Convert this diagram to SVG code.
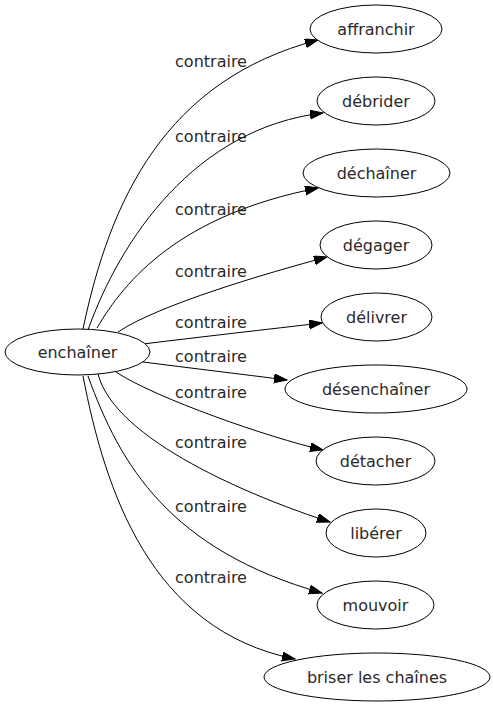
<svg xmlns="http://www.w3.org/2000/svg" width="493" height="707" viewBox="0 0 493 707">
<style>
.n ellipse{fill:#fff;stroke:#000;stroke-width:1}
text{font-family:"DejaVu Sans",sans-serif;font-size:16px;fill:#2a2a2a;text-anchor:middle}
.e path{fill:none;stroke:#000;stroke-width:1;marker-end:url(#ah)}
</style>
<defs>
<marker id="ah" markerUnits="userSpaceOnUse" markerWidth="14" markerHeight="10" refX="13" refY="4.5" orient="auto"><path d="M0,0 L13,4.5 L0,9 z" fill="#000" stroke="#000" stroke-width="1"/></marker>
</defs>
<rect width="493" height="707" fill="#fff"/>
<g id="edges" class="e">
<path d="M83,329 C110,200 165,80 318,40"/>
<path d="M88,330 C120,240 195,128 323,113"/>
<path d="M97,328 C125,280 180,215 318,188"/>
<path d="M118,332 C158,305 267,273 327,257"/>
<path d="M143,344 C200,337 270,329 322,323"/>
<path d="M143,362 C190,368 240,374 287,380"/>
<path d="M116,372 C155,398 270,438 323,450"/>
<path d="M98,374 C115,440 252,497 330,522"/>
<path d="M88,376 C120,465 170,550 322,593"/>
<path d="M83,376 C105,490 150,630 295,659"/>
</g>
<g id="labels">
<text x="211" y="67">contraire</text>
<text x="211" y="142">contraire</text>
<text x="211" y="215">contraire</text>
<text x="211" y="277">contraire</text>
<text x="211" y="328">contraire</text>
<text x="211" y="362">contraire</text>
<text x="211" y="398">contraire</text>
<text x="211" y="448">contraire</text>
<text x="211" y="512">contraire</text>
<text x="211" y="583">contraire</text>
</g>
<g id="enchainer" class="n"><ellipse cx="77.5" cy="352" rx="72.5" ry="23"/><text x="77.5" y="358">enchaîner</text></g>
<g id="affranchir" class="n"><ellipse cx="376" cy="29" rx="66" ry="24"/><text x="376" y="35">affranchir</text></g>
<g id="debrider" class="n"><ellipse cx="376" cy="101" rx="59" ry="24"/><text x="376" y="107">débrider</text></g>
<g id="dechainer" class="n"><ellipse cx="376.5" cy="173" rx="73.5" ry="24"/><text x="376.5" y="179">déchaîner</text></g>
<g id="degager" class="n"><ellipse cx="376" cy="245" rx="56" ry="24"/><text x="376" y="251">dégager</text></g>
<g id="delivrer" class="n"><ellipse cx="376.5" cy="317" rx="55.5" ry="24"/><text x="376.5" y="323">délivrer</text></g>
<g id="desenchainer" class="n"><ellipse cx="376" cy="389" rx="91" ry="24"/><text x="376" y="395">désenchaîner</text></g>
<g id="detacher" class="n"><ellipse cx="375.5" cy="461" rx="59.5" ry="24"/><text x="375.5" y="467">détacher</text></g>
<g id="liberer" class="n"><ellipse cx="376" cy="533" rx="50" ry="24"/><text x="376" y="539">libérer</text></g>
<g id="mouvoir" class="n"><ellipse cx="375.5" cy="605" rx="58.5" ry="24"/><text x="375.5" y="611">mouvoir</text></g>
<g id="briser" class="n"><ellipse cx="377" cy="677" rx="113" ry="24"/><text x="377" y="683">briser les chaînes</text></g>
</svg>
